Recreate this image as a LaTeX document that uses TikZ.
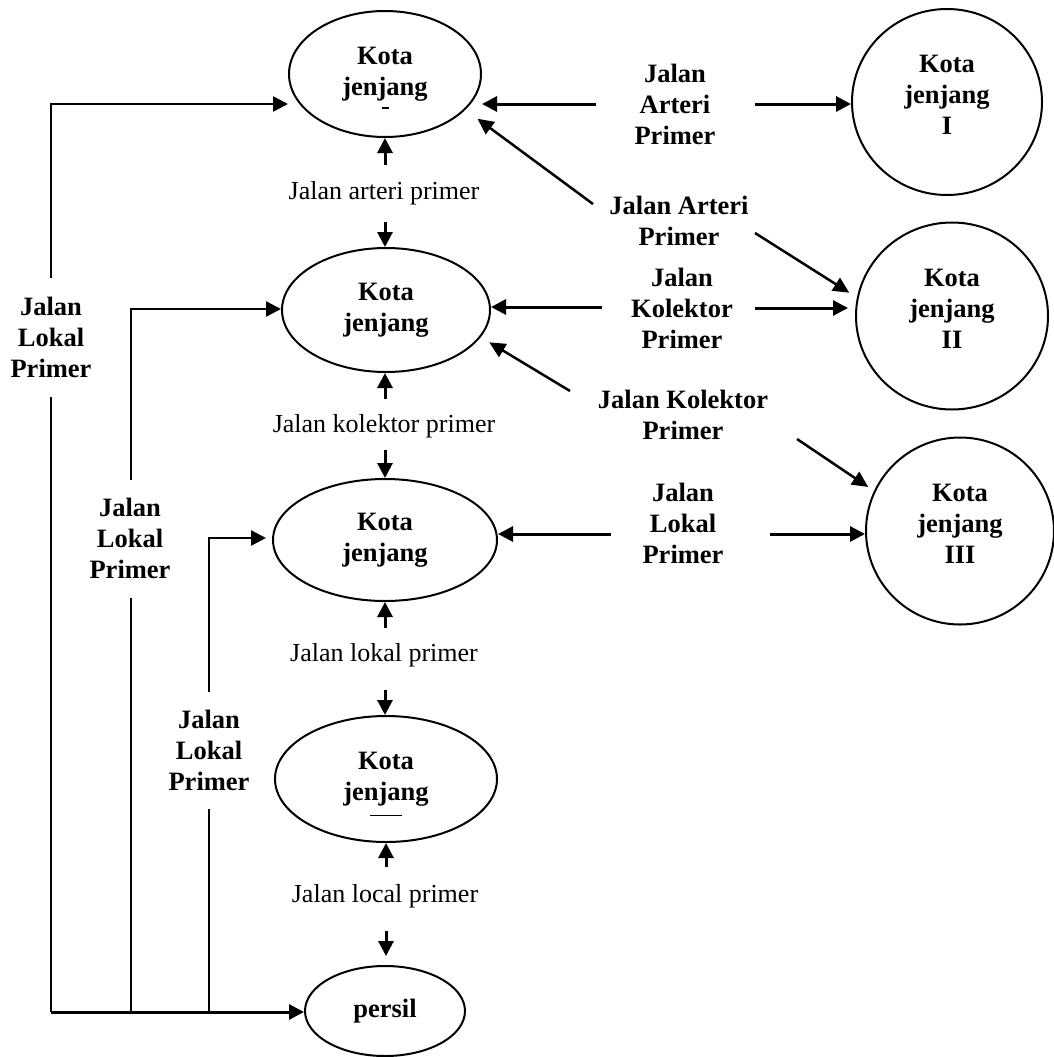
\documentclass[tikz,border=0pt]{standalone}
\usepackage{fontspec}
\setmainfont{Liberation Serif}
\usetikzlibrary{arrows.meta,shapes.geometric}
\begin{document}
\begin{tikzpicture}[x=1pt,y=-1pt,
  shp/.style={ellipse, draw, line width=2pt, inner sep=0pt, align=center,
    font=\fontsize{26.5}{31}\selectfont\bfseries},
  bl/.style={inner sep=0pt, align=center, font=\fontsize{26.5}{31}\selectfont\bfseries},
  rg/.style={inner sep=0pt, font=\fontsize{26}{31}\selectfont},
  arr/.style={line width=3pt, -{Triangle[length=15pt,width=15pt]}},
  darr/.style={line width=2.5pt, -{Triangle[length=16pt,width=15pt]}},
  ln/.style={line width=2pt}
]
\useasboundingbox (0,0) rectangle (1054,1057);

% left column ellipses
\node[shp, minimum width=192pt, minimum height=126pt] (E1) at (385,74) {Kota\\jenjang};
\node[shp, minimum width=208pt, minimum height=124pt] (E2) at (386,310) {Kota\\jenjang};
\node[shp, minimum width=224pt, minimum height=122pt] (E3) at (385,540) {Kota\\jenjang};
\node[shp, minimum width=222pt, minimum height=126pt] (E4) at (386,779) {Kota\\jenjang};
\node[shp, minimum width=160pt, minimum height=90pt] (P) at (385,1011) {persil};

% right column circles
\node[shp, minimum width=190pt, minimum height=186pt] (C1) at (947,102) {Kota\\jenjang\\I\rule[-14pt]{0pt}{0pt}};
\node[shp, minimum width=192pt, minimum height=187pt] (C2) at (952,316) {Kota\\jenjang\\II\rule[-14pt]{0pt}{0pt}};
\node[shp, minimum width=188pt, minimum height=187pt] (C3) at (960,531) {Kota\\jenjang\\III\rule[-14pt]{0pt}{0pt}};

% stray marks inside ellipses
\draw[line width=1.2pt] ([shift={(-3,34)}]E1.center) -- ++(7,0);
\draw[line width=1pt] ([shift={(-16,36)}]E4.center) -- ++(32,0);

% middle labels
\node[rg] (t1) at (384,193) {Jalan arteri primer};
\node[rg] (t2) at (384,426) {Jalan kolektor primer};
\node[rg] (t3) at (384,655) {Jalan lokal primer};
\node[rg] (t4) at (385,896) {Jalan local primer};

% right labels
\node[bl] (R1) at (675,104) {Jalan\\Arteri\\Primer};
\node[bl] (R2) at (679,221) {Jalan Arteri\\Primer};
\node[bl] (R3) at (682,308) {Jalan\\Kolektor\\Primer};
\node[bl] (R4) at (683,415) {Jalan Kolektor\\Primer};
\node[bl] (R5) at (683,523) {Jalan\\Lokal\\Primer};

% left labels
\node[bl] (Q1) at (51,337) {Jalan\\Lokal\\Primer};
\node[bl] (Q2) at (130,538) {Jalan\\Lokal\\Primer};
\node[bl] (Q3) at (209,750) {Jalan\\Lokal\\Primer};

% free ends
\coordinate (m1) at (385,165);
\coordinate (m2) at (385,222);
\coordinate (m3) at (385,399);
\coordinate (m4) at (385,450);
\coordinate (m5) at (385,628);
\coordinate (m6) at (385,690);
\coordinate (m7) at (386,867);
\coordinate (m8) at (386,931);

\coordinate (h1l) at (596,104);
\coordinate (h1r) at (755,104);
\coordinate (h2l) at (602,307);
\coordinate (h2r) at (755,308);
\coordinate (h3l) at (611,534);
\coordinate (h3r) at (770,534);

\coordinate (d1) at (593,204);
\coordinate (d2) at (755,233);
\coordinate (d3) at (570,391);
\coordinate (d4) at (797,439);

\coordinate (v1t) at (51,278);
\coordinate (k1) at (51,104);
\coordinate (v2t) at (131,480);
\coordinate (k2) at (131,309);
\coordinate (v3t) at (209,692);
\coordinate (k3) at (209,538);
\coordinate (v1b) at (51,397);
\coordinate (v2b) at (131,598);
\coordinate (v3b) at (209,809);
\coordinate (k4) at (51,1012);

% vertical arrows in the middle column
\draw[arr] (m1) -- (m1 |- E1.south);
\draw[arr] (m2) -- (m2 |- E2.north);
\draw[arr] (m3) -- (m3 |- E2.south);
\draw[arr] (m4) -- (m4 |- E3.north);
\draw[arr] (m5) -- (m5 |- E3.south);
\draw[arr] (m6) -- (m6 |- E4.north);
\draw[arr] (m7) -- (m7 |- E4.south);
\draw[arr, shorten >=9pt] (m8) -- (m8 |- P.north);

% horizontal arrows
\draw[arr] (h1l) -- (h1l -| E1.east);
\draw[arr] (h1r) -- (h1r -| C1.west);
\draw[arr] (h2l) -- (h2l -| E2.east);
\draw[arr, shorten >=7pt] (h2r) -- (h2r -| C2.west);
\draw[arr] (h3l) -- (h3l -| E3.east);
\draw[arr] (h3r) -- (h3r -| C3.west);

% diagonal arrows
\draw[darr, shorten >=15pt] (d1) -- (E1.-24);
\draw[darr, shorten >=9pt] (d2) -- (C2.169);
\draw[darr, shorten >=10pt] (d3) -- (E2.-16);
\draw[darr, shorten >=7pt] (d4) -- (C3.155);

% left routes
\draw[arr, line width=2.5pt] (v1t) -- (k1) -- (k1 -| E1.west);
\draw[arr, line width=2.5pt] (v2t) -- (k2) -- (k2 -| E2.west);
\draw[arr, line width=2.5pt, shorten >=6pt] (v3t) -- (k3) -- (k3 -| E3.west);
\draw[ln] (v1b) -- (k4);
\draw[ln] (v2b) -- (v2b |- k4);
\draw[ln] (v3b) -- (v3b |- k4);
\draw[arr] (k4) -- (k4 -| P.west);
\end{tikzpicture}
\end{document}
